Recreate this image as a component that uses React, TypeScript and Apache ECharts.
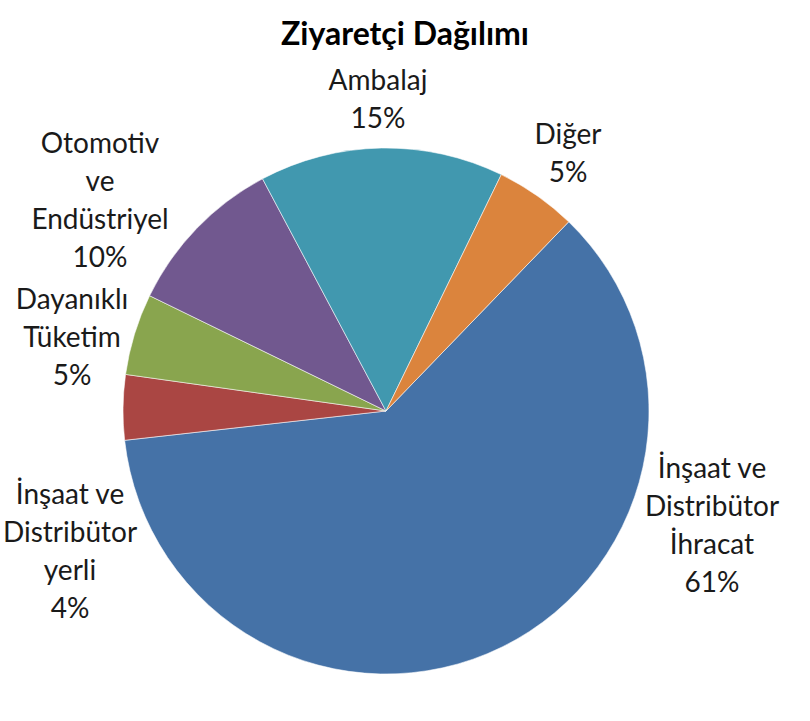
import { useEffect, useRef } from 'react';
import * as echarts from 'echarts';

// slices, clockwise from the first one
const categories = [
  'İnşaat ve\nDistribütor\nİhracat',
  'İnşaat ve\nDistribütor\nyerli',
  'Dayanıklı\nTüketim',
  'Otomotiv\nve\nEndüstriyel',
  'Ambalaj',
  'Diğer',
];
const values = [61, 4, 5, 10, 15, 5];
const colors = ['#4572A7', '#AA4643', '#89A54E', '#71588F', '#4198AF', '#DB843D'];

// label block centres (Excel "best fit" positions)
const LABEL_POS: [number, number][] = [
  [712, 524],
  [70, 550],
  [72, 336],
  [100, 199],
  [378, 98],
  [568, 152],
];

const FONT = 'Lato, "Noto Sans", sans-serif';

export default function App() {
  const chartRef = useRef<HTMLDivElement>(null);

  useEffect(() => {
    if (!chartRef.current) return;
    const chart = echarts.init(chartRef.current, null, { renderer: 'svg' });

    chart.setOption({
      animation: false,
      backgroundColor: '#ffffff',
      title: {
        text: 'Ziyaretçi Dağılımı',
        left: 'center',
        top: 11,
        textStyle: {
          fontFamily: FONT,
          fontSize: 32,
          fontWeight: 'bold',
          color: '#000',
        },
      },
      series: [
        {
          type: 'pie',
          center: [386, 411],
          radius: 263,
          startAngle: 46,
          clockwise: true,
          data: categories.map((name, i) => ({
            name,
            value: values[i],
            itemStyle: { color: colors[i] },
          })),
          itemStyle: {
            borderColor: 'rgba(255,255,255,0.55)',
            borderWidth: 1,
          },
          label: {
            show: true,
            position: 'outside',
            formatter: (p: any) => `${p.name}\n${p.value}%`,
            fontFamily: FONT,
            fontSize: 28,
            lineHeight: 38,
            color: '#1a1a1a',
            align: 'center',
            overflow: 'none',
          },
          labelLine: { show: false },
          labelLayout: (params: any) => {
            const pos = LABEL_POS[params.dataIndex];
            return {
              x: pos[0],
              y: pos[1],
              align: 'center',
              verticalAlign: 'middle',
            };
          },
          emphasis: { disabled: true },
        },
      ],
    });

    return () => {
      chart.dispose();
    };
  }, []);

  return (
    <div
      ref={chartRef}
      style={{ position: 'fixed', left: 0, top: 0, width: 810, height: 721 }}
    />
  );
}
